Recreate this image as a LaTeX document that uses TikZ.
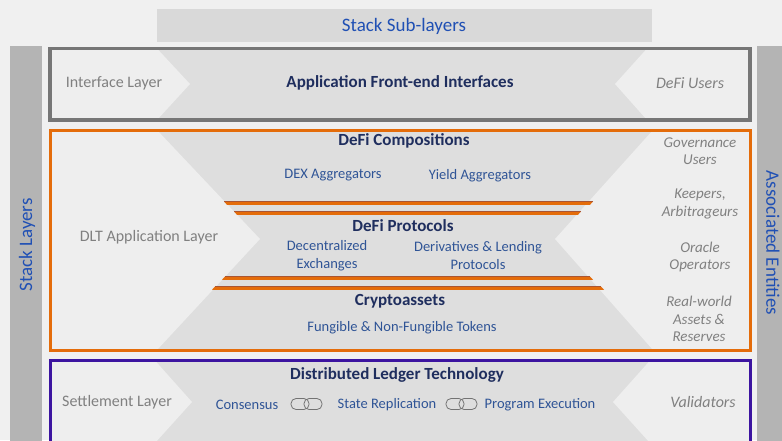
\documentclass[tikz,border=0pt]{standalone}
\usepackage{fontspec}
\setmainfont{Carlito}
\usepackage{tikz}
\usetikzlibrary{calc}
\usepackage{xcolor}
\definecolor{cBack}{RGB}{240,240,240}
\definecolor{cBar}{RGB}{217,217,217}
\definecolor{cSide}{RGB}{180,180,180}
\definecolor{cLight}{RGB}{238,238,238}
\definecolor{cDark}{RGB}{222,222,222}
\definecolor{cFrame}{RGB}{118,118,118}
\definecolor{cOrange}{RGB}{228,108,10}
\definecolor{cRust}{RGB}{170,85,50}
\definecolor{cPurple}{RGB}{60,20,160}
\definecolor{cTitle}{RGB}{32,80,180}
\definecolor{cNavy}{RGB}{31,46,94}
\definecolor{cItem}{RGB}{47,84,150}
\definecolor{cLabel}{RGB}{128,128,128}

\begin{document}
\begin{tikzpicture}[x=1pt,y=-1pt,
  title/.style={font=\fontsize{19}{22}\selectfont,text=cTitle},
  layerlabel/.style={font=\fontsize{16}{19}\selectfont,text=cLabel},
  heading/.style={font=\fontsize{17}{20}\selectfont\bfseries,text=cNavy},
  item/.style={font=\fontsize{14.5}{18}\selectfont,text=cItem,align=center},
  entity/.style={font=\fontsize{15}{17.5}\selectfont\itshape,text=cLabel,align=center},
  sepbar/.style={fill=cOrange},
  sepedge/.style={cRust,line width=0.6pt},
  chain/.style={draw=black!55,line width=0.8pt,rounded corners=5pt}]
  \fill[cBack] (0,0) rectangle (782,440);
  \useasboundingbox (0,0) rectangle (782,440);
  % headers
  \fill[cBar] (157,9) rectangle (652,42);
  \node[title] (sub) at (404,26) {Stack Sub-layers};
  \fill[cSide] (10,46) rectangle (42,446);
  \node[title,rotate=90] (stack) at (27,245) {Stack Layers};
  \fill[cSide] (757,46) rectangle (790,446);
  \node[title,rotate=-90] (assoc) at (773,243) {Associated Entities};
  % interface layer
  \fill[cDark] (50,48.5) rectangle (750,120);
  \fill[cLight] (50,48.5) -- (157,48.5) -- (190,84) -- (157,120) -- (50,120) -- cycle;
  \fill[cLight] (750,48.5) -- (647,48.5) -- (615,84) -- (647,120) -- (750,120) -- cycle;
  \draw[cFrame,line width=3.5pt] (50,48.5) rectangle (750,120);
  \node[layerlabel] (iface) at (114,83) {Interface Layer};
  \node[heading] (front) at (400,83) {Application Front-end Interfaces};
  \node[entity,font=\fontsize{16}{19}\selectfont\itshape] (users) at (690,83) {DeFi Users};
  % DLT application layer
  \fill[cDark] (50,130) rectangle (750,350);
  \fill[cLight] (50,130) -- (157,130) -- (260,239) -- (157,350) -- (50,350) -- cycle;
  \fill[cLight] (750,130) -- (653,130) -- (555,239) -- (653,350) -- (750,350) -- cycle;
  \fill[sepbar] (224,201.5) -- (593,201.5) -- (590,204.8) -- (227,204.8) -- cycle;
  \fill[sepbar] (234,211.5) -- (581,211.5) -- (578,214.8) -- (237,214.8) -- cycle;
  \fill[sepbar] (225,276.5) -- (590,276.5) -- (593,279.8) -- (222,279.8) -- cycle;
  \fill[sepbar] (215,286.5) -- (601,286.5) -- (604,289.8) -- (212,289.8) -- cycle;
  \draw[sepedge] (224,201.6) -- (593,201.6);
  \draw[sepedge] (234,211.6) -- (581,211.6);
  \draw[sepedge] (225,276.6) -- (590,276.6);
  \draw[sepedge] (215,286.6) -- (601,286.6);
  \draw[cOrange,line width=3pt] (50,130) rectangle (750,350);
  \node[layerlabel] (dltapp) at (149,237) {DLT Application Layer};
  \node[heading] (comp) at (404,141) {DeFi Compositions};
  \node[item] (dexagg) at (333,175) {DEX Aggregators};
  \node[item] (yield) at (480,176) {Yield Aggregators};
  \node[heading] (proto) at (403,226) {DeFi Protocols};
  \node[item] (dex) at (327,256) {Decentralized\\Exchanges};
  \node[item] (deriv) at (478,256) {Derivatives \& Lending\\Protocols};
  \node[heading] (crypto) at (400,301) {Cryptoassets};
  \node[item] (tokens) at (402,328) {Fungible \& Non-Fungible Tokens};
  \node[entity] (gov) at (700,151) {Governance\\Users};
  \node[entity] (keep) at (700,204) {Keepers,\\Arbitrageurs};
  \node[entity] (oracle) at (700,257) {Oracle\\Operators};
  \node[entity] (real) at (699,319) {Real-world\\Assets \&\\Reserves};
  % settlement layer
  \fill[cDark] (50,360.5) rectangle (750,446);
  \fill[cLight] (50,360.5) -- (155,360.5) -- (192,402) -- (155,443) -- (50,443) -- cycle;
  \fill[cLight] (750,360.5) -- (650,360.5) -- (613,402) -- (650,443) -- (750,443) -- cycle;
  \draw[cPurple,line width=3pt] (50,360.5) rectangle (750,446);
  \node[layerlabel] (settle) at (117,402) {Settlement Layer};
  \node[heading] (dlt) at (397,375) {Distributed Ledger Technology};
  \node[item] (cons) at (247,405) {Consensus};
  \draw[chain] (291,398.5) rectangle (309,409.5);
  \draw[chain] (304,398.5) rectangle (322,409.5);
  \node[item] (repl) at (387,405) {State Replication};
  \draw[chain] (446,398.5) rectangle (464,409.5);
  \draw[chain] (459,398.5) rectangle (477,409.5);
  \node[item] (exec) at (540,405) {Program Execution};
  \node[entity,font=\fontsize{16}{19}\selectfont\itshape] (valid) at (703,402) {Validators};
\end{tikzpicture}
\end{document}
